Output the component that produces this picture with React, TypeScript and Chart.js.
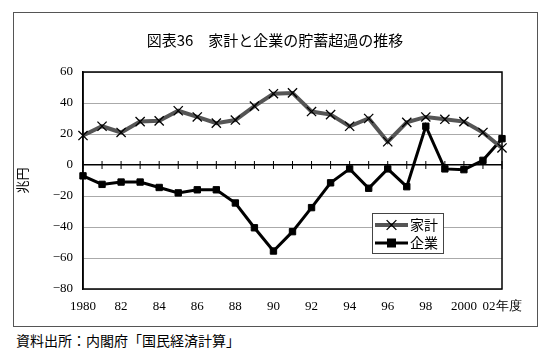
import React, { useEffect, useRef } from "react";
import { Chart, registerables } from "chart.js";

Chart.register(...registerables);

const titleText = "図表36\u3000家計と企業の貯蓄超過の推移";
const yAxisTitle = "兆円";
const sourceText = "資料出所：内閣府「国民経済計算」";

const years = [
  "1980", "1981", "1982", "1983", "1984", "1985", "1986", "1987", "1988", "1989", "1990", "1991",
  "1992", "1993", "1994", "1995", "1996", "1997", "1998", "1999", "2000", "2001", "2002",
];
const xTickLabels = [
  "1980", "", "82", "", "84", "", "86", "", "88", "", "90", "", "92", "", "94", "", "96", "", "98", "", "2000", "", "02年度",
];
const seriesNames = ["家計", "企業"];
const household = [19, 25, 21, 28, 28.5, 35, 31, 27, 29, 38, 46, 46.5, 34.5, 32.5, 25, 30, 15, 27.5, 31, 29.5, 28, 21, 11];
const corporate = [-7, -12.5, -11, -11, -14.5, -18, -16, -16, -24.5, -40.5, -55.5, -43, -27.5, -11.5, -2.5, -15, -2.5, -14, 25, -2.5, -3, 3, 17];
const yMin = -80;
const yMax = 60;
const yStep = 20;

const framePlugin = {
  id: "framePlugin",
  afterDatasetsDraw(chart: any) {
    const { ctx, chartArea, scales } = chart;
    const x = scales.x;
    const y = scales.y;
    ctx.save();
    ctx.strokeStyle = "#000";
    ctx.lineWidth = 1.5;
    ctx.strokeRect(chartArea.left, chartArea.top, chartArea.right - chartArea.left, chartArea.bottom - chartArea.top);
    const y0 = y.getPixelForValue(0);
    ctx.lineWidth = 1;
    for (let i = 0; i < years.length; i++) {
      const px = x.getPixelForValue(i);
      ctx.beginPath();
      ctx.moveTo(px, y0 - 4);
      ctx.lineTo(px, y0 + 4);
      ctx.stroke();
    }
    ctx.restore();
  },
  afterDraw(chart: any) {
    const { ctx, chartArea } = chart;
    const left = chartArea.left + 289;
    const top = chartArea.top + 141;
    const w = 71;
    const h = 40;
    ctx.save();
    ctx.fillStyle = "#fff";
    ctx.fillRect(left, top, w, h);
    ctx.strokeStyle = "#444";
    ctx.lineWidth = 1;
    ctx.strokeRect(left + 0.5, top + 0.5, w, h);
    chart.data.datasets.forEach((ds: any, i: number) => {
      const cy = top + 12 + i * 18;
      const x1 = left + 3;
      const x2 = left + 36;
      ctx.strokeStyle = ds.borderColor;
      ctx.lineWidth = ds.borderWidth;
      ctx.beginPath();
      ctx.moveTo(x1, cy);
      ctx.lineTo(x2, cy);
      ctx.stroke();
      const cx = (x1 + x2) / 2;
      ctx.strokeStyle = ds.pointBorderColor;
      ctx.fillStyle = ds.pointBackgroundColor;
      if (ds.pointStyle === "crossRot") {
        const r = ds.pointRadius * 0.75;
        ctx.lineWidth = ds.pointBorderWidth;
        ctx.beginPath();
        ctx.moveTo(cx - r, cy - r);
        ctx.lineTo(cx + r, cy + r);
        ctx.moveTo(cx - r, cy + r);
        ctx.lineTo(cx + r, cy - r);
        ctx.stroke();
      } else {
        const r = ds.pointRadius;
        ctx.fillRect(cx - r, cy - r, r * 2, r * 2);
      }
      ctx.fillStyle = "#000";
      ctx.font = "14px 'Noto Sans CJK JP'";
      ctx.textBaseline = "middle";
      ctx.textAlign = "left";
      ctx.fillText(ds.label, x2 + 2, cy);
    });
    ctx.restore();
  },
};

export default function App() {
  const canvasRef = useRef<HTMLCanvasElement | null>(null);

  useEffect(() => {
    if (!canvasRef.current) return;
    const chart = new Chart(canvasRef.current, {
      type: "line",
      data: {
        labels: years,
        datasets: [
          {
            label: seriesNames[0],
            data: household,
            borderColor: "#555",
            borderWidth: 4,
            pointStyle: "crossRot",
            pointRadius: 6.5,
            pointBorderColor: "#000",
            pointBorderWidth: 1.3,
            pointBackgroundColor: "rgba(0,0,0,0)",
            tension: 0,
            clip: false,
          },
          {
            label: seriesNames[1],
            data: corporate,
            borderColor: "#000",
            borderWidth: 3,
            pointStyle: "rect",
            pointRadius: 4.5,
            pointBorderColor: "#000",
            pointBorderWidth: 1,
            pointBackgroundColor: "#000",
            tension: 0,
            clip: false,
          },
        ],
      },
      options: {
        animation: false,
        responsive: false,
        maintainAspectRatio: false,
        layout: { padding: { top: 59, right: 34, bottom: 0, left: 0 } },
        plugins: {
          legend: { display: false },
          tooltip: { enabled: false },
          title: { display: false },
        },
        scales: {
          x: {
            type: "category",
            offset: false,
            grid: { display: false, drawTicks: false },
            border: { display: false },
            ticks: {
              autoSkip: false,
              maxRotation: 0,
              minRotation: 0,
              padding: 10,
              color: "#000",
              font: { family: "'Liberation Serif'", size: 13 },
              callback: (_v: any, i: number) => xTickLabels[i],
            },
            afterFit: (s: any) => {
              s.height = 37;
            },
          },
          y: {
            min: yMin,
            max: yMax,
            grid: {
              drawTicks: false,
              color: (c: any) => (c.tick && c.tick.value === 0 ? "#000" : "#aaa"),
              lineWidth: (c: any) => (c.tick && c.tick.value === 0 ? 1.5 : 1),
            },
            border: { display: true, color: "#000", width: 1.5 },
            ticks: {
              stepSize: yStep,
              padding: 10,
              color: "#000",
              font: { family: "'Liberation Serif'", size: 13 },
              callback: (v: any) => (Number(v) < 0 ? "\u2212" + Math.abs(Number(v)) : String(v)),
            },
            title: {
              display: true,
              text: yAxisTitle,
              color: "#000",
              font: { family: "'Noto Sans CJK JP'", size: 13 },
              padding: { top: 0, bottom: 0 },
            },
            afterFit: (s: any) => {
              s.width = 69;
            },
          },
        },
      },
      plugins: [framePlugin],
    });
    return () => chart.destroy();
  }, []);

  return (
    <div style={{ position: "absolute", left: 0, top: 0, width: 550, height: 355, background: "#fff" }}>
      <div
        style={{
          position: "absolute",
          left: 13,
          top: 12,
          width: 525,
          height: 315,
          boxSizing: "border-box",
          border: "1px solid #555",
        }}
      />
      <canvas
        ref={canvasRef}
        width={522}
        height={313}
        style={{ position: "absolute", left: 14, top: 13, width: 522, height: 313 }}
      />
      <div
        style={{
          position: "absolute",
          left: 0,
          top: 31,
          width: 550,
          textAlign: "center",
          fontFamily: "'Noto Sans CJK JP'",
          fontSize: 15,
          lineHeight: "18px",
          color: "#000",
          whiteSpace: "nowrap",
        }}
      >
        {titleText}
      </div>
      <div
        style={{
          position: "absolute",
          left: 16,
          top: 331,
          fontFamily: "'Noto Sans CJK JP'",
          fontSize: 14,
          lineHeight: "18px",
          color: "#000",
          whiteSpace: "nowrap",
        }}
      >
        {sourceText}
      </div>
    </div>
  );
}
